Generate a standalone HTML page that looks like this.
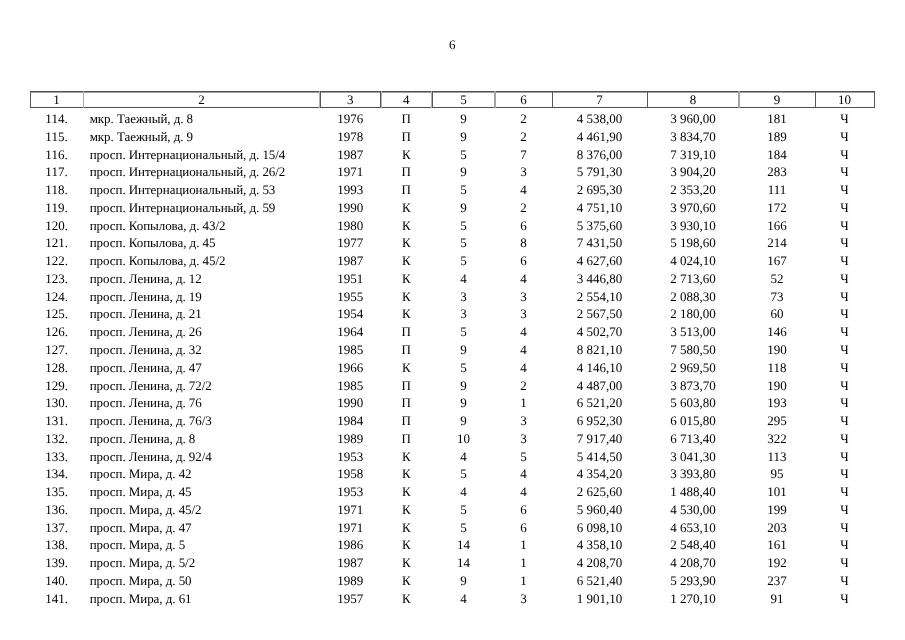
<!DOCTYPE html>
<html><head><meta charset="utf-8">
<style>
html,body{margin:0;padding:0;background:#fff;}
body{width:905px;height:640px;position:relative;overflow:hidden;will-change:transform;font-family:"Liberation Serif",serif;font-size:13px;color:#000;}
.t{position:absolute;white-space:nowrap;line-height:17px;text-rendering:geometricPrecision;}
.c{text-align:center;}
.hl{position:absolute;height:1px;background:#4a4a4a;}
.vl{position:absolute;width:1px;background:#4a4a4a;}
</style></head><body>

<div class="t" style="left:449px;top:36px">6</div>
<div class="hl" style="left:30px;width:845px;top:91px;background:#505050"></div>
<div class="hl" style="left:30px;width:845px;top:92px;background:#a0a0a0"></div>
<div class="hl" style="left:30px;width:845px;top:107px;background:#505050"></div>
<div class="vl" style="left:30px;top:91px;height:17px;background:#555"></div>
<div class="vl" style="left:83px;top:91px;height:17px;background:#aaa"></div>
<div class="vl" style="left:319px;top:91px;height:17px;background:#b0b0b0"></div>
<div class="vl" style="left:320px;top:91px;height:17px;background:#555"></div>
<div class="vl" style="left:380px;top:91px;height:17px;background:#555"></div>
<div class="vl" style="left:381px;top:91px;height:17px;background:#b0b0b0"></div>
<div class="vl" style="left:431px;top:91px;height:17px;background:#b0b0b0"></div>
<div class="vl" style="left:432px;top:91px;height:17px;background:#555"></div>
<div class="vl" style="left:494px;top:91px;height:17px;background:#a4a4a4"></div>
<div class="vl" style="left:495px;top:91px;height:17px;background:#a4a4a4"></div>
<div class="vl" style="left:552px;top:91px;height:17px;background:#555"></div>
<div class="vl" style="left:647px;top:91px;height:17px;background:#555"></div>
<div class="vl" style="left:738px;top:91px;height:17px;background:#a4a4a4"></div>
<div class="vl" style="left:739px;top:91px;height:17px;background:#a4a4a4"></div>
<div class="vl" style="left:815px;top:91px;height:17px;background:#555"></div>
<div class="vl" style="left:874px;top:91px;height:17px;background:#555"></div>
<div class="t c" style="left:30px;width:53px;top:91px">1</div>
<div class="t c" style="left:83px;width:237px;top:91px">2</div>
<div class="t c" style="left:320px;width:60.5px;top:91px">3</div>
<div class="t c" style="left:380.5px;width:51.5px;top:91px">4</div>
<div class="t c" style="left:432px;width:63px;top:91px">5</div>
<div class="t c" style="left:495px;width:57px;top:91px">6</div>
<div class="t c" style="left:552px;width:95px;top:91px">7</div>
<div class="t c" style="left:647px;width:92px;top:91px">8</div>
<div class="t c" style="left:739px;width:76px;top:91px">9</div>
<div class="t c" style="left:815px;width:59px;top:91px">10</div>
<div class="t c" style="left:30px;width:53px;top:110.00px">114.</div>
<div class="t" style="left:89.7px;top:110.00px;letter-spacing:-0.06px">мкр. Таежный, д. 8</div>
<div class="t c" style="left:320px;width:60.5px;top:110.00px">1976</div>
<div class="t c" style="left:380.5px;width:51.5px;top:110.00px">П</div>
<div class="t c" style="left:432px;width:63px;top:110.00px">9</div>
<div class="t c" style="left:495px;width:57px;top:110.00px">2</div>
<div class="t c" style="left:552px;width:95px;top:110.00px">4 538,00</div>
<div class="t c" style="left:647px;width:92px;top:110.00px">3 960,00</div>
<div class="t c" style="left:739px;width:76px;top:110.00px">181</div>
<div class="t c" style="left:815px;width:59px;top:110.00px">Ч</div>
<div class="t c" style="left:30px;width:53px;top:127.77px">115.</div>
<div class="t" style="left:89.7px;top:127.77px;letter-spacing:-0.06px">мкр. Таежный, д. 9</div>
<div class="t c" style="left:320px;width:60.5px;top:127.77px">1978</div>
<div class="t c" style="left:380.5px;width:51.5px;top:127.77px">П</div>
<div class="t c" style="left:432px;width:63px;top:127.77px">9</div>
<div class="t c" style="left:495px;width:57px;top:127.77px">2</div>
<div class="t c" style="left:552px;width:95px;top:127.77px">4 461,90</div>
<div class="t c" style="left:647px;width:92px;top:127.77px">3 834,70</div>
<div class="t c" style="left:739px;width:76px;top:127.77px">189</div>
<div class="t c" style="left:815px;width:59px;top:127.77px">Ч</div>
<div class="t c" style="left:30px;width:53px;top:145.54px">116.</div>
<div class="t" style="left:89.7px;top:145.54px;letter-spacing:-0.06px">просп. Интернациональный, д. 15/4</div>
<div class="t c" style="left:320px;width:60.5px;top:145.54px">1987</div>
<div class="t c" style="left:380.5px;width:51.5px;top:145.54px">К</div>
<div class="t c" style="left:432px;width:63px;top:145.54px">5</div>
<div class="t c" style="left:495px;width:57px;top:145.54px">7</div>
<div class="t c" style="left:552px;width:95px;top:145.54px">8 376,00</div>
<div class="t c" style="left:647px;width:92px;top:145.54px">7 319,10</div>
<div class="t c" style="left:739px;width:76px;top:145.54px">184</div>
<div class="t c" style="left:815px;width:59px;top:145.54px">Ч</div>
<div class="t c" style="left:30px;width:53px;top:163.31px">117.</div>
<div class="t" style="left:89.7px;top:163.31px;letter-spacing:-0.06px">просп. Интернациональный, д. 26/2</div>
<div class="t c" style="left:320px;width:60.5px;top:163.31px">1971</div>
<div class="t c" style="left:380.5px;width:51.5px;top:163.31px">П</div>
<div class="t c" style="left:432px;width:63px;top:163.31px">9</div>
<div class="t c" style="left:495px;width:57px;top:163.31px">3</div>
<div class="t c" style="left:552px;width:95px;top:163.31px">5 791,30</div>
<div class="t c" style="left:647px;width:92px;top:163.31px">3 904,20</div>
<div class="t c" style="left:739px;width:76px;top:163.31px">283</div>
<div class="t c" style="left:815px;width:59px;top:163.31px">Ч</div>
<div class="t c" style="left:30px;width:53px;top:181.08px">118.</div>
<div class="t" style="left:89.7px;top:181.08px;letter-spacing:-0.06px">просп. Интернациональный, д. 53</div>
<div class="t c" style="left:320px;width:60.5px;top:181.08px">1993</div>
<div class="t c" style="left:380.5px;width:51.5px;top:181.08px">П</div>
<div class="t c" style="left:432px;width:63px;top:181.08px">5</div>
<div class="t c" style="left:495px;width:57px;top:181.08px">4</div>
<div class="t c" style="left:552px;width:95px;top:181.08px">2 695,30</div>
<div class="t c" style="left:647px;width:92px;top:181.08px">2 353,20</div>
<div class="t c" style="left:739px;width:76px;top:181.08px">111</div>
<div class="t c" style="left:815px;width:59px;top:181.08px">Ч</div>
<div class="t c" style="left:30px;width:53px;top:198.85px">119.</div>
<div class="t" style="left:89.7px;top:198.85px;letter-spacing:-0.06px">просп. Интернациональный, д. 59</div>
<div class="t c" style="left:320px;width:60.5px;top:198.85px">1990</div>
<div class="t c" style="left:380.5px;width:51.5px;top:198.85px">К</div>
<div class="t c" style="left:432px;width:63px;top:198.85px">9</div>
<div class="t c" style="left:495px;width:57px;top:198.85px">2</div>
<div class="t c" style="left:552px;width:95px;top:198.85px">4 751,10</div>
<div class="t c" style="left:647px;width:92px;top:198.85px">3 970,60</div>
<div class="t c" style="left:739px;width:76px;top:198.85px">172</div>
<div class="t c" style="left:815px;width:59px;top:198.85px">Ч</div>
<div class="t c" style="left:30px;width:53px;top:216.62px">120.</div>
<div class="t" style="left:89.7px;top:216.62px;letter-spacing:-0.06px">просп. Копылова, д. 43/2</div>
<div class="t c" style="left:320px;width:60.5px;top:216.62px">1980</div>
<div class="t c" style="left:380.5px;width:51.5px;top:216.62px">К</div>
<div class="t c" style="left:432px;width:63px;top:216.62px">5</div>
<div class="t c" style="left:495px;width:57px;top:216.62px">6</div>
<div class="t c" style="left:552px;width:95px;top:216.62px">5 375,60</div>
<div class="t c" style="left:647px;width:92px;top:216.62px">3 930,10</div>
<div class="t c" style="left:739px;width:76px;top:216.62px">166</div>
<div class="t c" style="left:815px;width:59px;top:216.62px">Ч</div>
<div class="t c" style="left:30px;width:53px;top:234.39px">121.</div>
<div class="t" style="left:89.7px;top:234.39px;letter-spacing:-0.06px">просп. Копылова, д. 45</div>
<div class="t c" style="left:320px;width:60.5px;top:234.39px">1977</div>
<div class="t c" style="left:380.5px;width:51.5px;top:234.39px">К</div>
<div class="t c" style="left:432px;width:63px;top:234.39px">5</div>
<div class="t c" style="left:495px;width:57px;top:234.39px">8</div>
<div class="t c" style="left:552px;width:95px;top:234.39px">7 431,50</div>
<div class="t c" style="left:647px;width:92px;top:234.39px">5 198,60</div>
<div class="t c" style="left:739px;width:76px;top:234.39px">214</div>
<div class="t c" style="left:815px;width:59px;top:234.39px">Ч</div>
<div class="t c" style="left:30px;width:53px;top:252.16px">122.</div>
<div class="t" style="left:89.7px;top:252.16px;letter-spacing:-0.06px">просп. Копылова, д. 45/2</div>
<div class="t c" style="left:320px;width:60.5px;top:252.16px">1987</div>
<div class="t c" style="left:380.5px;width:51.5px;top:252.16px">К</div>
<div class="t c" style="left:432px;width:63px;top:252.16px">5</div>
<div class="t c" style="left:495px;width:57px;top:252.16px">6</div>
<div class="t c" style="left:552px;width:95px;top:252.16px">4 627,60</div>
<div class="t c" style="left:647px;width:92px;top:252.16px">4 024,10</div>
<div class="t c" style="left:739px;width:76px;top:252.16px">167</div>
<div class="t c" style="left:815px;width:59px;top:252.16px">Ч</div>
<div class="t c" style="left:30px;width:53px;top:269.93px">123.</div>
<div class="t" style="left:89.7px;top:269.93px;letter-spacing:-0.06px">просп. Ленина, д. 12</div>
<div class="t c" style="left:320px;width:60.5px;top:269.93px">1951</div>
<div class="t c" style="left:380.5px;width:51.5px;top:269.93px">К</div>
<div class="t c" style="left:432px;width:63px;top:269.93px">4</div>
<div class="t c" style="left:495px;width:57px;top:269.93px">4</div>
<div class="t c" style="left:552px;width:95px;top:269.93px">3 446,80</div>
<div class="t c" style="left:647px;width:92px;top:269.93px">2 713,60</div>
<div class="t c" style="left:739px;width:76px;top:269.93px">52</div>
<div class="t c" style="left:815px;width:59px;top:269.93px">Ч</div>
<div class="t c" style="left:30px;width:53px;top:287.70px">124.</div>
<div class="t" style="left:89.7px;top:287.70px;letter-spacing:-0.06px">просп. Ленина, д. 19</div>
<div class="t c" style="left:320px;width:60.5px;top:287.70px">1955</div>
<div class="t c" style="left:380.5px;width:51.5px;top:287.70px">К</div>
<div class="t c" style="left:432px;width:63px;top:287.70px">3</div>
<div class="t c" style="left:495px;width:57px;top:287.70px">3</div>
<div class="t c" style="left:552px;width:95px;top:287.70px">2 554,10</div>
<div class="t c" style="left:647px;width:92px;top:287.70px">2 088,30</div>
<div class="t c" style="left:739px;width:76px;top:287.70px">73</div>
<div class="t c" style="left:815px;width:59px;top:287.70px">Ч</div>
<div class="t c" style="left:30px;width:53px;top:305.47px">125.</div>
<div class="t" style="left:89.7px;top:305.47px;letter-spacing:-0.06px">просп. Ленина, д. 21</div>
<div class="t c" style="left:320px;width:60.5px;top:305.47px">1954</div>
<div class="t c" style="left:380.5px;width:51.5px;top:305.47px">К</div>
<div class="t c" style="left:432px;width:63px;top:305.47px">3</div>
<div class="t c" style="left:495px;width:57px;top:305.47px">3</div>
<div class="t c" style="left:552px;width:95px;top:305.47px">2 567,50</div>
<div class="t c" style="left:647px;width:92px;top:305.47px">2 180,00</div>
<div class="t c" style="left:739px;width:76px;top:305.47px">60</div>
<div class="t c" style="left:815px;width:59px;top:305.47px">Ч</div>
<div class="t c" style="left:30px;width:53px;top:323.24px">126.</div>
<div class="t" style="left:89.7px;top:323.24px;letter-spacing:-0.06px">просп. Ленина, д. 26</div>
<div class="t c" style="left:320px;width:60.5px;top:323.24px">1964</div>
<div class="t c" style="left:380.5px;width:51.5px;top:323.24px">П</div>
<div class="t c" style="left:432px;width:63px;top:323.24px">5</div>
<div class="t c" style="left:495px;width:57px;top:323.24px">4</div>
<div class="t c" style="left:552px;width:95px;top:323.24px">4 502,70</div>
<div class="t c" style="left:647px;width:92px;top:323.24px">3 513,00</div>
<div class="t c" style="left:739px;width:76px;top:323.24px">146</div>
<div class="t c" style="left:815px;width:59px;top:323.24px">Ч</div>
<div class="t c" style="left:30px;width:53px;top:341.01px">127.</div>
<div class="t" style="left:89.7px;top:341.01px;letter-spacing:-0.06px">просп. Ленина, д. 32</div>
<div class="t c" style="left:320px;width:60.5px;top:341.01px">1985</div>
<div class="t c" style="left:380.5px;width:51.5px;top:341.01px">П</div>
<div class="t c" style="left:432px;width:63px;top:341.01px">9</div>
<div class="t c" style="left:495px;width:57px;top:341.01px">4</div>
<div class="t c" style="left:552px;width:95px;top:341.01px">8 821,10</div>
<div class="t c" style="left:647px;width:92px;top:341.01px">7 580,50</div>
<div class="t c" style="left:739px;width:76px;top:341.01px">190</div>
<div class="t c" style="left:815px;width:59px;top:341.01px">Ч</div>
<div class="t c" style="left:30px;width:53px;top:358.78px">128.</div>
<div class="t" style="left:89.7px;top:358.78px;letter-spacing:-0.06px">просп. Ленина, д. 47</div>
<div class="t c" style="left:320px;width:60.5px;top:358.78px">1966</div>
<div class="t c" style="left:380.5px;width:51.5px;top:358.78px">К</div>
<div class="t c" style="left:432px;width:63px;top:358.78px">5</div>
<div class="t c" style="left:495px;width:57px;top:358.78px">4</div>
<div class="t c" style="left:552px;width:95px;top:358.78px">4 146,10</div>
<div class="t c" style="left:647px;width:92px;top:358.78px">2 969,50</div>
<div class="t c" style="left:739px;width:76px;top:358.78px">118</div>
<div class="t c" style="left:815px;width:59px;top:358.78px">Ч</div>
<div class="t c" style="left:30px;width:53px;top:376.55px">129.</div>
<div class="t" style="left:89.7px;top:376.55px;letter-spacing:-0.06px">просп. Ленина, д. 72/2</div>
<div class="t c" style="left:320px;width:60.5px;top:376.55px">1985</div>
<div class="t c" style="left:380.5px;width:51.5px;top:376.55px">П</div>
<div class="t c" style="left:432px;width:63px;top:376.55px">9</div>
<div class="t c" style="left:495px;width:57px;top:376.55px">2</div>
<div class="t c" style="left:552px;width:95px;top:376.55px">4 487,00</div>
<div class="t c" style="left:647px;width:92px;top:376.55px">3 873,70</div>
<div class="t c" style="left:739px;width:76px;top:376.55px">190</div>
<div class="t c" style="left:815px;width:59px;top:376.55px">Ч</div>
<div class="t c" style="left:30px;width:53px;top:394.32px">130.</div>
<div class="t" style="left:89.7px;top:394.32px;letter-spacing:-0.06px">просп. Ленина, д. 76</div>
<div class="t c" style="left:320px;width:60.5px;top:394.32px">1990</div>
<div class="t c" style="left:380.5px;width:51.5px;top:394.32px">П</div>
<div class="t c" style="left:432px;width:63px;top:394.32px">9</div>
<div class="t c" style="left:495px;width:57px;top:394.32px">1</div>
<div class="t c" style="left:552px;width:95px;top:394.32px">6 521,20</div>
<div class="t c" style="left:647px;width:92px;top:394.32px">5 603,80</div>
<div class="t c" style="left:739px;width:76px;top:394.32px">193</div>
<div class="t c" style="left:815px;width:59px;top:394.32px">Ч</div>
<div class="t c" style="left:30px;width:53px;top:412.09px">131.</div>
<div class="t" style="left:89.7px;top:412.09px;letter-spacing:-0.06px">просп. Ленина, д. 76/3</div>
<div class="t c" style="left:320px;width:60.5px;top:412.09px">1984</div>
<div class="t c" style="left:380.5px;width:51.5px;top:412.09px">П</div>
<div class="t c" style="left:432px;width:63px;top:412.09px">9</div>
<div class="t c" style="left:495px;width:57px;top:412.09px">3</div>
<div class="t c" style="left:552px;width:95px;top:412.09px">6 952,30</div>
<div class="t c" style="left:647px;width:92px;top:412.09px">6 015,80</div>
<div class="t c" style="left:739px;width:76px;top:412.09px">295</div>
<div class="t c" style="left:815px;width:59px;top:412.09px">Ч</div>
<div class="t c" style="left:30px;width:53px;top:429.86px">132.</div>
<div class="t" style="left:89.7px;top:429.86px;letter-spacing:-0.06px">просп. Ленина, д. 8</div>
<div class="t c" style="left:320px;width:60.5px;top:429.86px">1989</div>
<div class="t c" style="left:380.5px;width:51.5px;top:429.86px">П</div>
<div class="t c" style="left:432px;width:63px;top:429.86px">10</div>
<div class="t c" style="left:495px;width:57px;top:429.86px">3</div>
<div class="t c" style="left:552px;width:95px;top:429.86px">7 917,40</div>
<div class="t c" style="left:647px;width:92px;top:429.86px">6 713,40</div>
<div class="t c" style="left:739px;width:76px;top:429.86px">322</div>
<div class="t c" style="left:815px;width:59px;top:429.86px">Ч</div>
<div class="t c" style="left:30px;width:53px;top:447.63px">133.</div>
<div class="t" style="left:89.7px;top:447.63px;letter-spacing:-0.06px">просп. Ленина, д. 92/4</div>
<div class="t c" style="left:320px;width:60.5px;top:447.63px">1953</div>
<div class="t c" style="left:380.5px;width:51.5px;top:447.63px">К</div>
<div class="t c" style="left:432px;width:63px;top:447.63px">4</div>
<div class="t c" style="left:495px;width:57px;top:447.63px">5</div>
<div class="t c" style="left:552px;width:95px;top:447.63px">5 414,50</div>
<div class="t c" style="left:647px;width:92px;top:447.63px">3 041,30</div>
<div class="t c" style="left:739px;width:76px;top:447.63px">113</div>
<div class="t c" style="left:815px;width:59px;top:447.63px">Ч</div>
<div class="t c" style="left:30px;width:53px;top:465.40px">134.</div>
<div class="t" style="left:89.7px;top:465.40px;letter-spacing:-0.06px">просп. Мира, д. 42</div>
<div class="t c" style="left:320px;width:60.5px;top:465.40px">1958</div>
<div class="t c" style="left:380.5px;width:51.5px;top:465.40px">К</div>
<div class="t c" style="left:432px;width:63px;top:465.40px">5</div>
<div class="t c" style="left:495px;width:57px;top:465.40px">4</div>
<div class="t c" style="left:552px;width:95px;top:465.40px">4 354,20</div>
<div class="t c" style="left:647px;width:92px;top:465.40px">3 393,80</div>
<div class="t c" style="left:739px;width:76px;top:465.40px">95</div>
<div class="t c" style="left:815px;width:59px;top:465.40px">Ч</div>
<div class="t c" style="left:30px;width:53px;top:483.17px">135.</div>
<div class="t" style="left:89.7px;top:483.17px;letter-spacing:-0.06px">просп. Мира, д. 45</div>
<div class="t c" style="left:320px;width:60.5px;top:483.17px">1953</div>
<div class="t c" style="left:380.5px;width:51.5px;top:483.17px">К</div>
<div class="t c" style="left:432px;width:63px;top:483.17px">4</div>
<div class="t c" style="left:495px;width:57px;top:483.17px">4</div>
<div class="t c" style="left:552px;width:95px;top:483.17px">2 625,60</div>
<div class="t c" style="left:647px;width:92px;top:483.17px">1 488,40</div>
<div class="t c" style="left:739px;width:76px;top:483.17px">101</div>
<div class="t c" style="left:815px;width:59px;top:483.17px">Ч</div>
<div class="t c" style="left:30px;width:53px;top:500.94px">136.</div>
<div class="t" style="left:89.7px;top:500.94px;letter-spacing:-0.06px">просп. Мира, д. 45/2</div>
<div class="t c" style="left:320px;width:60.5px;top:500.94px">1971</div>
<div class="t c" style="left:380.5px;width:51.5px;top:500.94px">К</div>
<div class="t c" style="left:432px;width:63px;top:500.94px">5</div>
<div class="t c" style="left:495px;width:57px;top:500.94px">6</div>
<div class="t c" style="left:552px;width:95px;top:500.94px">5 960,40</div>
<div class="t c" style="left:647px;width:92px;top:500.94px">4 530,00</div>
<div class="t c" style="left:739px;width:76px;top:500.94px">199</div>
<div class="t c" style="left:815px;width:59px;top:500.94px">Ч</div>
<div class="t c" style="left:30px;width:53px;top:518.71px">137.</div>
<div class="t" style="left:89.7px;top:518.71px;letter-spacing:-0.06px">просп. Мира, д. 47</div>
<div class="t c" style="left:320px;width:60.5px;top:518.71px">1971</div>
<div class="t c" style="left:380.5px;width:51.5px;top:518.71px">К</div>
<div class="t c" style="left:432px;width:63px;top:518.71px">5</div>
<div class="t c" style="left:495px;width:57px;top:518.71px">6</div>
<div class="t c" style="left:552px;width:95px;top:518.71px">6 098,10</div>
<div class="t c" style="left:647px;width:92px;top:518.71px">4 653,10</div>
<div class="t c" style="left:739px;width:76px;top:518.71px">203</div>
<div class="t c" style="left:815px;width:59px;top:518.71px">Ч</div>
<div class="t c" style="left:30px;width:53px;top:536.48px">138.</div>
<div class="t" style="left:89.7px;top:536.48px;letter-spacing:-0.06px">просп. Мира, д. 5</div>
<div class="t c" style="left:320px;width:60.5px;top:536.48px">1986</div>
<div class="t c" style="left:380.5px;width:51.5px;top:536.48px">К</div>
<div class="t c" style="left:432px;width:63px;top:536.48px">14</div>
<div class="t c" style="left:495px;width:57px;top:536.48px">1</div>
<div class="t c" style="left:552px;width:95px;top:536.48px">4 358,10</div>
<div class="t c" style="left:647px;width:92px;top:536.48px">2 548,40</div>
<div class="t c" style="left:739px;width:76px;top:536.48px">161</div>
<div class="t c" style="left:815px;width:59px;top:536.48px">Ч</div>
<div class="t c" style="left:30px;width:53px;top:554.25px">139.</div>
<div class="t" style="left:89.7px;top:554.25px;letter-spacing:-0.06px">просп. Мира, д. 5/2</div>
<div class="t c" style="left:320px;width:60.5px;top:554.25px">1987</div>
<div class="t c" style="left:380.5px;width:51.5px;top:554.25px">К</div>
<div class="t c" style="left:432px;width:63px;top:554.25px">14</div>
<div class="t c" style="left:495px;width:57px;top:554.25px">1</div>
<div class="t c" style="left:552px;width:95px;top:554.25px">4 208,70</div>
<div class="t c" style="left:647px;width:92px;top:554.25px">4 208,70</div>
<div class="t c" style="left:739px;width:76px;top:554.25px">192</div>
<div class="t c" style="left:815px;width:59px;top:554.25px">Ч</div>
<div class="t c" style="left:30px;width:53px;top:572.02px">140.</div>
<div class="t" style="left:89.7px;top:572.02px;letter-spacing:-0.06px">просп. Мира, д. 50</div>
<div class="t c" style="left:320px;width:60.5px;top:572.02px">1989</div>
<div class="t c" style="left:380.5px;width:51.5px;top:572.02px">К</div>
<div class="t c" style="left:432px;width:63px;top:572.02px">9</div>
<div class="t c" style="left:495px;width:57px;top:572.02px">1</div>
<div class="t c" style="left:552px;width:95px;top:572.02px">6 521,40</div>
<div class="t c" style="left:647px;width:92px;top:572.02px">5 293,90</div>
<div class="t c" style="left:739px;width:76px;top:572.02px">237</div>
<div class="t c" style="left:815px;width:59px;top:572.02px">Ч</div>
<div class="t c" style="left:30px;width:53px;top:589.79px">141.</div>
<div class="t" style="left:89.7px;top:589.79px;letter-spacing:-0.06px">просп. Мира, д. 61</div>
<div class="t c" style="left:320px;width:60.5px;top:589.79px">1957</div>
<div class="t c" style="left:380.5px;width:51.5px;top:589.79px">К</div>
<div class="t c" style="left:432px;width:63px;top:589.79px">4</div>
<div class="t c" style="left:495px;width:57px;top:589.79px">3</div>
<div class="t c" style="left:552px;width:95px;top:589.79px">1 901,10</div>
<div class="t c" style="left:647px;width:92px;top:589.79px">1 270,10</div>
<div class="t c" style="left:739px;width:76px;top:589.79px">91</div>
<div class="t c" style="left:815px;width:59px;top:589.79px">Ч</div>
</body></html>
